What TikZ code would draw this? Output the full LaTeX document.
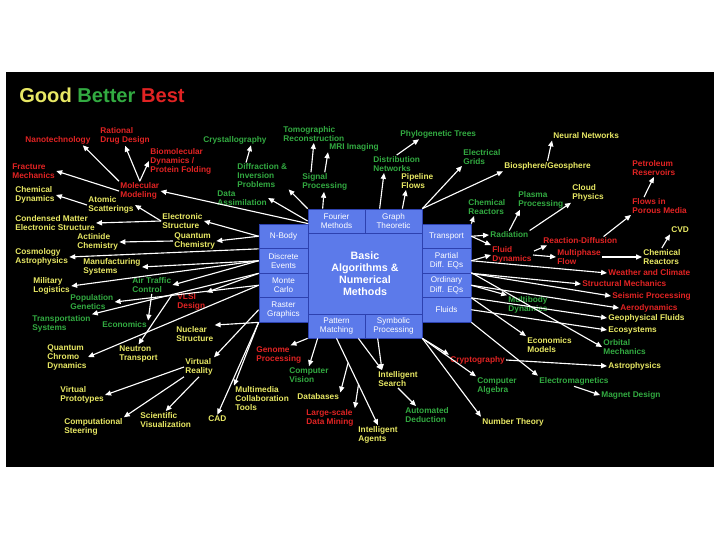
\documentclass[tikz,border=0pt]{standalone}
\usepackage{fontspec}
\setmainfont{Liberation Sans}
\usetikzlibrary{arrows.meta,calc}

\definecolor{goodcol}{RGB}{232,232,100}
\definecolor{bettercol}{RGB}{50,170,65}
\definecolor{bestcol}{RGB}{225,35,35}
\definecolor{cellblue}{RGB}{92,122,234}
\definecolor{cellline}{RGB}{45,65,175}

\newcommand{\lblfont}{\fontsize{5.9}{6.4}\selectfont\bfseries}
\newcommand{\cellfont}{\fontsize{5.8}{6.6}\selectfont}

\begin{document}
\begin{tikzpicture}[x=0.025cm,y=-0.025cm,
	lbl/.style={anchor=west,align=left,inner sep=0.8pt,font=\lblfont},
	goodlbl/.style={lbl,text=goodcol},
	betterlbl/.style={lbl,text=bettercol},
	bestlbl/.style={lbl,text=bestcol},
	cell/.style={draw=cellline,fill=cellblue,text=white,line width=0.5pt,align=center,inner sep=0pt,font=\cellfont},
	sidecell/.style={cell,minimum width=1.225cm,minimum height=0.6125cm},
	rowcell/.style={cell,minimum width=1.425cm,minimum height=0.6cm},
	arr/.style={draw=white,line width=0.8pt,-{Triangle[length=4.2pt,width=3.6pt]}}]
			%%%%% START %%%%%
			
			\fill[white] (0,0) rectangle (720,540);
			\fill[black] (6,72) rectangle (714,467);
			
			\node[anchor=west,inner sep=0pt,font=\fontsize{14.3}{16}\selectfont\bfseries] (title) at (19,95) {\textcolor{goodcol}{Good} \textcolor{bettercol}{Better} \textcolor{bestcol}{Best}};
			
			% the blue block
			\node[cell,minimum width=2.85cm,minimum height=2.025cm,font=\fontsize{7.6}{8.6}\selectfont\bfseries] (core) at (365,273.5) {Basic\\Algorithms \&\\Numerical\\Methods};
			\node[rowcell] (fourier) at (336.5,221) {Fourier\\Methods};
			\node[rowcell] (graph) at (393.5,221) {Graph\\Theoretic};
			\node[rowcell] (pattern) at (336.5,326) {Pattern\\Matching};
			\node[rowcell] (symbolic) at (393.5,326) {Symbolic\\Processing};
			\node[sidecell] (nbody) at (283.5,236.25) {N-Body};
			\node[sidecell] (events) at (283.5,260.75) {Discrete\\Events};
			\node[sidecell] (monte) at (283.5,285.25) {Monte\\Carlo};
			\node[sidecell] (raster) at (283.5,309.75) {Raster\\Graphics};
			\node[sidecell] (transport) at (446.5,236.25) {Transport};
			\node[sidecell] (pde) at (446.5,260.75) {Partial\\Diff. EQs};
			\node[sidecell] (ode) at (446.5,285.25) {Ordinary\\Diff. EQs};
			\node[sidecell] (fluids) at (446.5,309.75) {Fluids};
			
			% best
			\node[bestlbl] (nano) at (24,140) {Nanotechnology};
			\node[bestlbl] (drug) at (99,136) {Rational\\Drug Design};
			\node[bestlbl] (biomol) at (149,161) {Biomolecular\\Dynamics /\\Protein Folding};
			\node[bestlbl] (fract) at (11,171) {Fracture\\Mechanics};
			\node[bestlbl] (molmod) at (119,191) {Molecular\\Modeling};
			\node[bestlbl] (vlsi) at (176,302) {VLSI\\Design};
			\node[bestlbl] (genome) at (255,355) {Genome\\Processing};
			\node[bestlbl] (mining) at (305,418) {Large-scale\\Data Mining};
			\node[bestlbl] (crypto) at (449,360) {Cryptography};
			\node[bestlbl] (petro) at (631,168) {Petroleum\\Reservoirs};
			\node[bestlbl] (porous) at (631,206) {Flows in\\Porous Media};
			\node[bestlbl] (reacdiff) at (542,241) {Reaction-Diffusion};
			\node[bestlbl] (fluid) at (491,255) {Fluid\\Dynamics};
			\node[bestlbl] (multiph) at (556,257) {Multiphase\\Flow};
			\node[bestlbl] (weather) at (607,273) {Weather and Climate};
			\node[bestlbl] (struct) at (581,284) {Structural Mechanics};
			\node[bestlbl] (seismic) at (611,296) {Seismic Processing};
			\node[bestlbl] (aero) at (619,308) {Aerodynamics};
			
			% better
			\node[betterlbl] (crystal) at (202,140) {Crystallography};
			\node[betterlbl] (diffr) at (236,176) {Diffraction \&\\Inversion\\Problems};
			\node[betterlbl] (dataas) at (216,198) {Data\\Assimilation};
			\node[betterlbl] (tomo) at (282,134) {Tomographic\\Reconstruction};
			\node[betterlbl] (mri) at (328,147) {MRI Imaging};
			\node[betterlbl] (signal) at (301,182) {Signal\\Processing};
			\node[betterlbl] (phylo) at (399,134) {Phylogenetic Trees};
			\node[betterlbl] (distrib) at (372,164) {Distribution\\Networks};
			\node[betterlbl] (grids) at (462,157) {Electrical\\Grids};
			\node[betterlbl] (chemreac) at (467,207) {Chemical\\Reactors};
			\node[betterlbl] (plasma) at (517,200) {Plasma\\Processing};
			\node[betterlbl] (radiat) at (489,235) {Radiation};
			\node[betterlbl] (multibody) at (507,305) {Multibody\\Dynamics};
			\node[betterlbl] (orbital) at (602,347) {Orbital\\Mechanics};
			\node[betterlbl] (compalg) at (476,386) {Computer\\Algebra};
			\node[betterlbl] (emag) at (538,381) {Electromagnetics};
			\node[betterlbl] (magnet) at (600,395) {Magnet Design};
			\node[betterlbl] (compvis) at (288,375) {Computer\\Vision};
			\node[betterlbl] (autoded) at (404,415) {Automated\\Deduction};
			\node[betterlbl] (transp) at (31,324) {Transportation\\Systems};
			\node[betterlbl] (econ) at (101,325) {Economics};
			\node[betterlbl] (popgen) at (69,302) {Population\\Genetics};
			\node[betterlbl] (atc) at (131,285) {Air Traffic\\Control};
			
			% good
			\node[goodlbl] (chemdyn) at (14,195) {Chemical\\Dynamics};
			\node[goodlbl] (atomic) at (87,205) {Atomic\\Scatterings};
			\node[goodlbl] (condmat) at (14,223) {Condensed Matter\\Electronic Structure};
			\node[goodlbl] (elstruct) at (161,221) {Electronic\\Structure};
			\node[goodlbl] (actinide) at (76,242) {Actinide\\Chemistry};
			\node[goodlbl] (qchem) at (173,241) {Quantum\\Chemistry};
			\node[goodlbl] (cosmo) at (14,257) {Cosmology\\Astrophysics};
			\node[goodlbl] (manuf) at (82,267) {Manufacturing\\Systems};
			\node[goodlbl] (military) at (32,286) {Military\\Logistics};
			\node[goodlbl] (qcd) at (46,357) {Quantum\\Chromo\\Dynamics};
			\node[goodlbl] (neutron) at (118,354) {Neutron\\Transport};
			\node[goodlbl] (nuclear) at (175,334) {Nuclear\\Structure};
			\node[goodlbl] (vr) at (184,367) {Virtual\\Reality};
			\node[goodlbl] (vproto) at (59,395) {Virtual\\Prototypes};
			\node[goodlbl] (steer) at (63,427) {Computational\\Steering};
			\node[goodlbl] (sciviz) at (139,420) {Scientific\\Visualization};
			\node[goodlbl] (cad) at (207,419) {CAD};
			\node[goodlbl] (multimed) at (234,399) {Multimedia\\Collaboration\\Tools};
			\node[goodlbl] (databases) at (296,397) {Databases};
			\node[goodlbl] (agents) at (357,435) {Intelligent\\Agents};
			\node[goodlbl] (isearch) at (377,379) {Intelligent\\Search};
			\node[goodlbl] (pipeline) at (400,181) {Pipeline\\Flows};
			\node[goodlbl] (neural) at (552,136) {Neural Networks};
			\node[goodlbl] (biosph) at (503,166) {Biosphere/Geosphere};
			\node[goodlbl] (cloud) at (571,193) {Cloud\\Physics};
			\node[goodlbl] (cvd) at (670,230) {CVD};
			\node[goodlbl] (chemreac2) at (642,257) {Chemical\\Reactors};
			\node[goodlbl] (geofl) at (607,318) {Geophysical Fluids};
			\node[goodlbl] (ecosys) at (607,330) {Ecosystems};
			\node[goodlbl] (econmod) at (526,345) {Economics\\Models};
			\node[goodlbl] (astro) at (607,366) {Astrophysics};
			\node[goodlbl] (numth) at (481,422) {Number Theory};
			
			% left side
			\draw[arr] (nbody.north east) -- (molmod.east);
			\draw[arr] (molmod.north west) -- (nano.-12);
			\draw[arr] (molmod.north) -- (drug.south);
			\draw[arr] (molmod.north) -- (biomol.west);
			\draw[arr] (molmod.west) -- (fract.east);
			\draw[arr] (atomic.west) -- (chemdyn.east);
			\draw[arr] (nbody.west) -- (elstruct.east);
			\draw[arr] (elstruct.west) -- (atomic.east);
			\draw[arr] (elstruct.west) -- (condmat.east);
			\draw[arr] (nbody.west) -- (qchem.east);
			\draw[arr] (qchem.west) -- (actinide.east);
			\draw[arr] (nbody.south west) -- (cosmo.east);
			\draw[arr] (events.west) -- (manuf.east);
			\draw[arr] (events.west) -- (military.east);
			\draw[arr] (events.west) -- (atc.east);
			\draw[arr] (events.south west) -- (vlsi.north east);
			\draw[arr] (events.south west) -- (transp.north east);
			\draw[arr] (monte.west) -- (popgen.east);
			\draw[arr] (monte.west) -- (qcd.east);
			\draw[arr] (atc.south) -- (econ.north east);
			\draw[arr] (atc.south east) -- (neutron.north);
			\draw[arr] (raster.south west) -- (nuclear.north east);
			\draw[arr] (raster.west) -- (vr.north east);
			\draw[arr] (raster.south west) -- (cad.north);
			\draw[arr] (raster.south west) -- (multimed.north west);
			\draw[arr] (vr.west) -- (vproto.east);
			\draw[arr] (vr.south west) -- (steer.north east);
			\draw[arr] (vr.south) -- (sciviz.north);
			
			% top
			\draw[arr] (fourier.west) -- (dataas.east);
			\draw[arr] (fourier.north west) -- (diffr.south east);
			\draw[arr] ($(diffr.north west)+(10,0)$) -- ($(crystal.south east)+(-17,0)$);
			\draw[arr] ($(fourier.north west)+(15,0)$) -- (signal);
			\draw[arr] ($(signal.north west)+(10,0)$) -- (tomo.south);
			\draw[arr] (signal.north) -- (mri.south west);
			\draw[arr] ($(graph.north west)+(15,0)$) -- ($(distrib.south west)+(12,0)$);
			\draw[arr] (distrib.north) -- ($(phylo.south west)+(20,0)$);
			\draw[arr] ($(graph.north east)+(-20,0)$) -- ($(pipeline.south west)+(6,0)$);
			\draw[arr] (graph.north east) -- (grids.south west);
			\draw[arr] (graph.north east) -- (biosph.south west);
			\draw[arr] (biosph.north) -- (neural.south west);
			
			% right side
			\draw[arr] (transport.north east) -- ($(chemreac.south west)+(7,0)$);
			\draw[arr] (transport.east) -- (radiat.west);
			\draw[arr] (radiat.north) -- ($(plasma.south west)+(3,0)$);
			\draw[arr] (radiat.north east) -- (cloud.south west);
			\draw[arr] (transport.east) -- (fluid.north west);
			\draw[arr] (pde.east) -- (fluid.west);
			\draw[arr] ($(fluid.east)+(1,-4)$) -- ($(reacdiff.south west)+(5,0)$);
			\draw[arr] (fluid.east) -- (multiph.west);
			\draw[arr] (multiph.east) -- (chemreac2.west);
			\draw[arr] (chemreac2.north) -- (cvd.south west);
			\draw[arr] ($(reacdiff.north east)+(-15,0)$) -- (porous.south west);
			\draw[arr] ($(porous.north west)+(13,0)$) -- (petro.south);
			\draw[arr] (pde.east) -- (weather.west);
			\draw[arr] (pde.south east) -- (struct.west);
			\draw[arr] (pde.south east) -- (seismic.west);
			\draw[arr] (ode.east) -- (aero.west);
			\draw[arr] (ode.east) -- (multibody.north west);
			\draw[arr] (ode.south east) -- (geofl.west);
			\draw[arr] (fluids.east) -- (ecosys.west);
			\draw[arr] (ode.south east) -- (econmod.north west);
			\draw[arr] (ode.north east) -- (orbital.west);
			\draw[arr] (fluids.south east) -- (emag.north west);
			\draw[arr] (emag.south) -- (magnet.west);
			\draw[arr] (crypto.east) -- (astro.west);
			
			% bottom
			\draw[arr] (symbolic.south east) -- (crypto.north west);
			\draw[arr] (symbolic.south east) -- (compalg.north west);
			\draw[arr] (symbolic.south east) -- (numth.north west);
			\draw[arr] (pattern.south west) -- ($(genome.north east)+(-12,0)$);
			\draw[arr] ($(pattern.south west)+(10,0)$) -- (compvis.north);
			\draw[arr] (pattern.south) -- (agents.north) coordinate[pos=.28] (dbfork) coordinate[pos=.53] (dmfork);
			\draw[arr] (dbfork) -- (databases.north east);
			\draw[arr] (dmfork) -- (mining.north east);
			\draw[arr] ($(pattern.south east)+(-7,0)$) -- ($(isearch.north west)+(5,0)$);
			\draw[arr] ($(symbolic.south west)+(13,0)$) -- ($(isearch.north west)+(5,0)$);
			\draw[arr] (isearch.south) -- ($(autoded.north west)+(12,0)$);
			
			%%%%% END %%%%%
\end{tikzpicture}
\end{document}
